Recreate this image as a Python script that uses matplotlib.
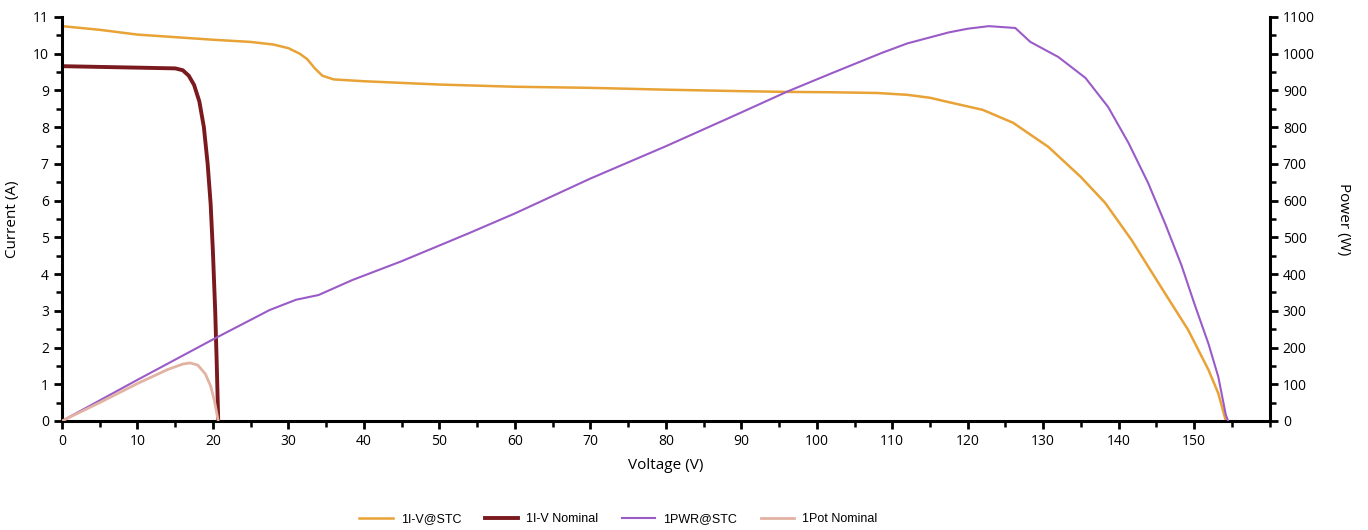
#!/usr/bin/env python3
# I-V and power curves of a PV string, STC vs nominal
import numpy as np
import matplotlib
matplotlib.use('Agg')
import matplotlib.pyplot as plt
from matplotlib.ticker import MultipleLocator

# 1I-V@STC (V, A)
iv_stc_v = [0, 5, 10, 15, 20, 25, 28, 30, 31.5, 32.5, 33.5, 34.5, 36, 40, 50, 60, 70, 80, 90, 96,
            102, 108, 112, 115, 117.5, 122, 126, 130.7, 135, 138.2, 141.7, 145.6, 149.2, 151.9, 153.2, 154.2]
iv_stc_i = [10.75, 10.65, 10.52, 10.45, 10.38, 10.32, 10.25, 10.15, 10.0, 9.85, 9.6, 9.4, 9.3, 9.25, 9.16,
            9.1, 9.07, 9.02, 8.98, 8.96, 8.95, 8.93, 8.88, 8.8, 8.68, 8.47, 8.12, 7.46, 6.64, 5.94, 4.93,
            3.65, 2.48, 1.39, 0.75, 0.0]

# 1I-V Nominal
iv_nom_v = [0, 5, 10, 15, 16, 16.8, 17.5, 18.2, 18.8, 19.3, 19.7, 20.0, 20.3, 20.5, 20.7]
iv_nom_i = [9.66, 9.64, 9.62, 9.6, 9.55, 9.4, 9.15, 8.7, 8.0, 7.0, 5.9, 4.6, 3.0, 1.6, 0.0]

# 1PWR@STC (V, W)
pwr_stc_v = [0, 10, 20, 27.5, 31, 34, 38.5, 45, 54, 60, 70, 80, 90, 96, 102, 108.6, 112, 117.5, 120,
             122.8, 126.3, 128.3, 132, 135.6, 138.6, 141.3, 143.9, 146.2, 148.3, 150.1, 151.9, 153.2,
             154.2, 154.5]
pwr_stc_p = [0, 112, 222, 302, 330, 343, 384, 435, 512, 565, 660, 748, 840, 896, 947, 1002, 1028, 1058,
             1068, 1075, 1070, 1032, 991, 934, 855, 757, 648, 535, 425, 315, 210, 120, 16, 0]

# 1Pot Nominal
pot_nom_v = [0, 5, 10, 14, 16, 17, 18, 19, 19.7, 20.2, 20.7]
pot_nom_p = [0, 50, 102, 140, 155, 158, 152, 128, 95, 55, 0]

labels = ["1I-V@STC", "1I-V Nominal", "1PWR@STC", "1Pot Nominal"]
colors = ["#E8A236", "#7A1A1F", "#9A5BC8", "#E2B2A2"]

plt.rcParams["font.family"] = ["Open Sans", "DejaVu Sans"]

fig = plt.figure(figsize=(13.68, 5.30), dpi=100)
ax = fig.add_axes([0.0453, 0.2057, 0.8828, 0.7623])
ax2 = ax.twinx()

l1, = ax.plot(iv_stc_v, iv_stc_i, color=colors[0], lw=1.8)
l2, = ax.plot(iv_nom_v, iv_nom_i, color=colors[1], lw=2.8)
l3, = ax2.plot(pwr_stc_v, pwr_stc_p, color=colors[2], lw=1.5)
l4, = ax2.plot(pot_nom_v, pot_nom_p, color=colors[3], lw=2.0)

ax.set_xlim(0, 160)
ax.set_ylim(0, 11)
ax2.set_ylim(0, 1100)

ax.xaxis.set_major_locator(MultipleLocator(10))
ax.xaxis.set_minor_locator(MultipleLocator(5))
ax.yaxis.set_major_locator(MultipleLocator(1))
ax.yaxis.set_minor_locator(MultipleLocator(0.5))
ax2.yaxis.set_major_locator(MultipleLocator(100))
ax2.yaxis.set_minor_locator(MultipleLocator(50))
ax.set_xticks([0, 10, 20, 30, 40, 50, 60, 70, 80, 90, 100, 110, 120, 130, 140, 150])

for a in (ax, ax2):
    for s in a.spines.values():
        s.set_linewidth(2.2)
    a.spines["top"].set_visible(False)
ax.spines["right"].set_visible(False)
ax2.spines["left"].set_visible(False)
ax2.spines["bottom"].set_visible(False)

ax.tick_params(which="major", length=6, width=2, labelsize=10, colors="black")
ax.tick_params(which="minor", length=4, width=1.8)
ax2.tick_params(which="major", length=6, width=2, labelsize=10)
ax2.tick_params(which="minor", length=4, width=1.8)

ax.set_xlabel("Voltage (V)", fontsize=11, labelpad=6)
ax.set_ylabel("Current (A)", fontsize=11, labelpad=9)
ax2.set_ylabel("Power (W)", fontsize=11, rotation=270, labelpad=26)

fig.legend([l1, l2, l3, l4], labels, loc="center", bbox_to_anchor=(0.452, 0.02), ncol=4,
           frameon=False, handlelength=2.7, handletextpad=0.65, columnspacing=1.85,
           prop={"family": "Liberation Sans", "size": 9})

fig.savefig("out.png", dpi=100)
